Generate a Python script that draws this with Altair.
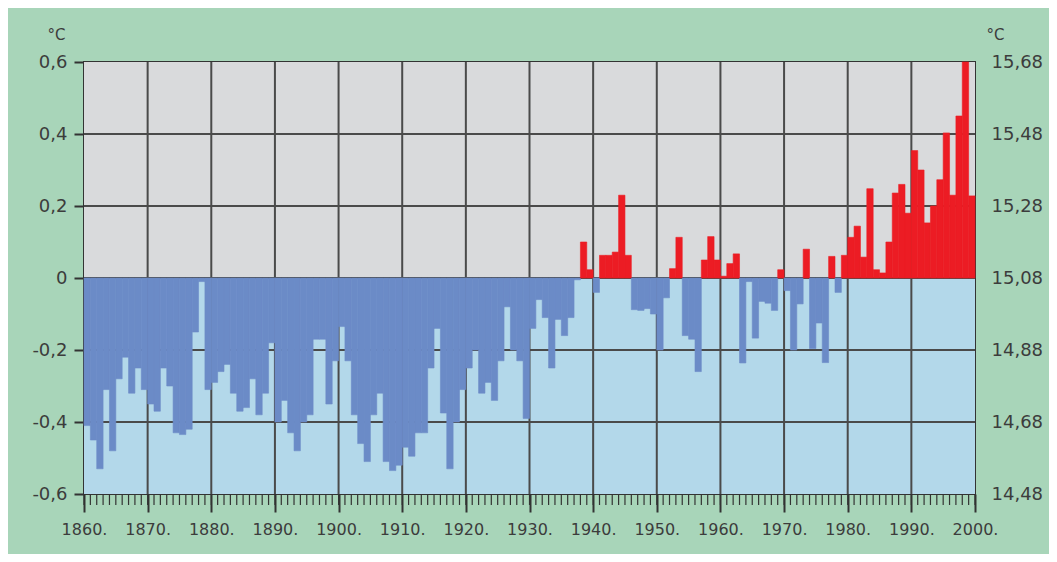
import altair as alt
import pandas as pd

# ---- data ----
years = list(range(1860, 2000))
anomaly = [
    -0.41, -0.45, -0.53, -0.31, -0.48, -0.28, -0.22, -0.32, -0.25, -0.31,   # 1860s
    -0.35, -0.37, -0.25, -0.30, -0.43, -0.435, -0.42, -0.15, -0.01, -0.31,  # 1870s
    -0.29, -0.26, -0.24, -0.32, -0.37, -0.36, -0.28, -0.38, -0.32, -0.18,   # 1880s
    -0.40, -0.34, -0.43, -0.48, -0.40, -0.38, -0.17, -0.17, -0.35, -0.23,   # 1890s
    -0.135, -0.23, -0.38, -0.46, -0.51, -0.38, -0.32, -0.51, -0.535, -0.52, # 1900s
    -0.47, -0.495, -0.43, -0.43, -0.25, -0.14, -0.375, -0.53, -0.40, -0.31, # 1910s
    -0.25, -0.20, -0.32, -0.29, -0.34, -0.23, -0.08, -0.20, -0.23, -0.39,   # 1920s
    -0.14, -0.06, -0.11, -0.25, -0.115, -0.16, -0.11, -0.005, 0.10, 0.023,  # 1930s
    -0.04, 0.063, 0.063, 0.072, 0.23, 0.063, -0.088, -0.09, -0.085, -0.10,  # 1940s
    -0.20, -0.055, 0.026, 0.113, -0.16, -0.17, -0.26, 0.05, 0.115, 0.05,    # 1950s
    0.005, 0.04, 0.067, -0.236, -0.01, -0.167, -0.065, -0.07, -0.09, 0.023, # 1960s
    -0.035, -0.20, -0.072, 0.08, -0.196, -0.125, -0.235, 0.06, -0.04, 0.063,# 1970s
    0.113, 0.144, 0.058, 0.248, 0.023, 0.014, 0.10, 0.236, 0.26, 0.18,      # 1980s
    0.354, 0.30, 0.153, 0.20, 0.273, 0.403, 0.23, 0.45, 0.60, 0.228,        # 1990s
]
decade_labels = list(range(1860, 2001, 10))
inner_decades = list(range(1870, 2000, 10))
y_ticks = [-0.6, -0.4, -0.2, 0.0, 0.2, 0.4, 0.6]
y_grid = [-0.4, -0.2, 0.0, 0.2, 0.4]
all_years = list(range(1860, 2001))
band_lo = [0.0, -0.6]
band_hi = [0.6, 0.0]
band_name = ["upper", "lower"]

# ---- styles ----
GREEN = "#a8d5b9"
GRAY = "#d9dadc"
LIGHTBLUE = "#b3d8ea"
RED = "#ec1c24"
BLUE = "#6b8bc7"
GRID = "#4a4a4a"
TEXT = "#3c3c3c"
W, H = 891, 432

bars_df = pd.DataFrame({"year": years, "value": anomaly})
bars_df["end"] = bars_df["year"] + 1
bands_df = pd.DataFrame({"lo": band_lo, "hi": band_hi, "band": band_name,
                         "x0": [1860, 1860], "x1": [2000, 2000]})
vgrid_df = pd.DataFrame({"year": inner_decades})
hgrid_df = pd.DataFrame({"v": y_grid})
minor_df = pd.DataFrame({"year": all_years})

xscale = alt.Scale(domain=[1860, 2000], nice=False, zero=False)
yscale = alt.Scale(domain=[-0.6, 0.6], nice=False, zero=False)

xaxis = alt.Axis(
    values=decade_labels, labelExpr="datum.value + '.'", grid=False, domain=False,
    tickSize=18, tickWidth=2, tickColor="#333333", labelPadding=9,
    labelFontSize=16, labelColor=TEXT, labelFont="DejaVu Sans",
    labelFlush=False, labelOverlap=False, title=None,
)


def X(field):
    return alt.X(f"{field}:Q", scale=xscale, axis=xaxis)


bands = alt.Chart(bands_df).mark_rect().encode(
    x=X("x0"), x2="x1",
    y=alt.Y("lo:Q", scale=yscale, axis=None), y2="hi:Q",
    color=alt.Color("band:N", scale=alt.Scale(domain=band_name, range=[GRAY, LIGHTBLUE]), legend=None),
)

vgrid = alt.Chart(vgrid_df).mark_rule(color=GRID, strokeWidth=2).encode(x=X("year"))

hgrid = alt.Chart(hgrid_df).mark_rule(color=GRID, strokeWidth=2).encode(
    y=alt.Y("v:Q", scale=yscale, axis=alt.Axis(
        orient="right", values=y_ticks, grid=False, domain=False, ticks=False,
        labelExpr="replace(format(datum.value + 15.08, '.2f'), '.', ',')",
        labelPadding=16, labelFontSize=18, labelColor=TEXT, labelFont="DejaVu Sans",
        labelFlush=False, labelAlign="left", labelBaseline="middle",
        title="°C", titleAngle=0, titleX=20, titleY=-28, titleAlign="center",
        titleBaseline="middle", titleFontSize=15, titleFontWeight="normal",
        titleColor=TEXT, titleFont="DejaVu Sans",
    )),
)

bars = alt.Chart(bars_df).mark_rect(strokeWidth=0.6).encode(
    x=X("year"), x2="end",
    y=alt.Y("value:Q", scale=yscale, axis=alt.Axis(
        orient="left", values=y_ticks, grid=False, domain=False,
        tickSize=10, tickWidth=2, tickColor="#333333",
        labelExpr="datum.value == 0 ? '0' : (datum.value < 0 ? '-' : '') + replace(format(abs(datum.value), '.1f'), '.', ',')",
        labelPadding=7, labelFontSize=18, labelColor=TEXT, labelFont="DejaVu Sans",
        labelFlush=False, labelBaseline="middle",
        title="°C", titleAngle=0, titleX=-28, titleY=-28, titleAlign="center",
        titleBaseline="middle", titleFontSize=15, titleFontWeight="normal",
        titleColor=TEXT, titleFont="DejaVu Sans",
    )),
    y2=alt.datum(0),
    color=alt.condition("datum.value >= 0", alt.value(RED), alt.value(BLUE)),
    stroke=alt.condition("datum.value >= 0", alt.value(RED), alt.value(BLUE)),
)

minor = alt.Chart(minor_df).mark_rule(color="#333333", strokeWidth=1.2).encode(
    x=X("year"), y=alt.value(H), y2=alt.value(H + 11),
)

chart = alt.layer(bands, vgrid, hgrid, bars, minor).resolve_scale(
    y="independent"
).properties(
    width=W, height=H,
    padding={"left": 76, "top": 54, "right": 74, "bottom": 60},
    autosize=alt.AutoSizeParams(type="none"),
).configure(
    background=GREEN,
).configure_view(
    stroke="#333333", strokeWidth=2,
)

chart.save("out.html", embed_options={"renderer": "svg", "actions": False})
